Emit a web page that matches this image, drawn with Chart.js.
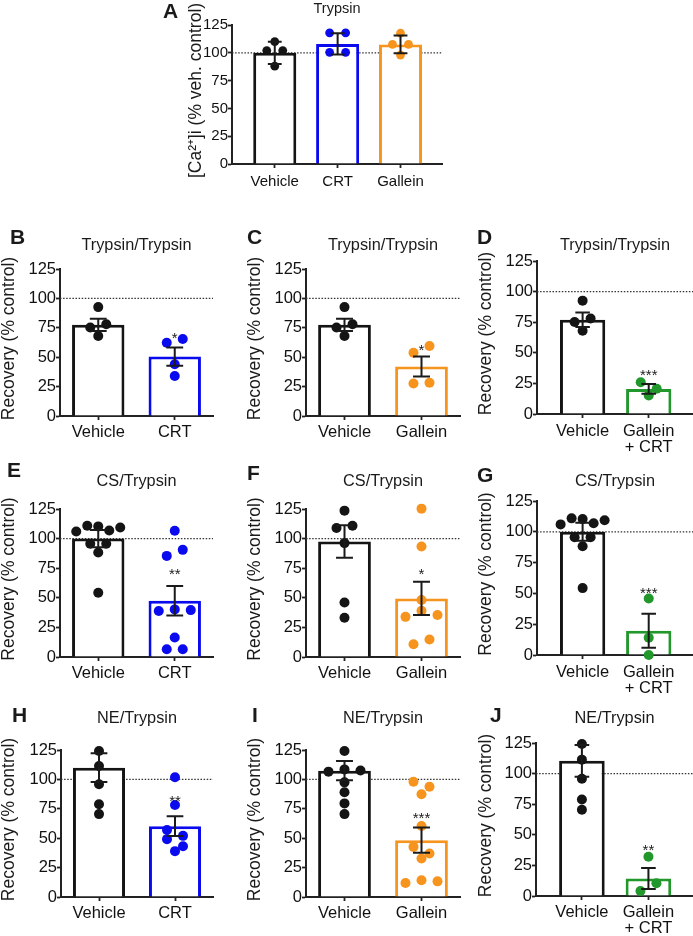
<!DOCTYPE html>
<html>
<head>
<meta charset="utf-8">
<script src="https://cdn.jsdelivr.net/npm/chart.js@4.4.1/dist/chart.umd.min.js"></script>
<style>
  html, body { margin: 0; padding: 0; background: #fff; overflow: hidden; width: 693px; height: 936px; position: relative; }
  canvas { position: absolute; }
</style>
</head>
<body>
<script>
// Categorias e ticks
var catsA = ["Vehicle", "CRT", "Gallein"];
var catsCrt = ["Vehicle", "CRT"];
var catsGallein = ["Vehicle", "Gallein"];
var catsCombo = ["Vehicle", ["Gallein", "+ CRT"]];
var yTickValues = [0, 25, 50, 75, 100, 125];

// A - Trypsin, [Ca2+]i
var aMeans = [100, 108, 107.5];
var aErrs = [10, 9.5, 8];
var aVehicle = [110, 102, 102, 88];
var aCrt = [118, 118, 100.4, 100.4];
var aGallein = [117.6, 107.6, 107.6, 98];

// B, C, D - Trypsin/Trypsin
var tVehicle = [92.6, 75.2, 78, 68];
var bMeans = [77.5, 50.5];
var bErrs = [5.2, 7.8];
var bCrt = [62.3, 65.5, 44, 34];
var cMeans = [77.5, 42];
var cErrs = [5.2, 8.5];
var cGallein = [53.8, 59.5, 27.6, 28.2];
var dMeans = [77, 20.5];
var dErrs = [6, 4];
var dCombo = [26, 20.6, 15.2];

// E, F, G - CS/Trypsin
var csVehicle = [106, 110.9, 110.3, 106.9, 109.4, 95.6, 95.6, 88.2, 54.3];
var eMeans = [100, 47.5];
var eErrs = [7.3, 12.4];
var eCrt = [106.6, 85.4, 90.5, 38.8, 40.2, 39.6, 16.4, 6.5, 6.5];
var fMeans = [97.5, 49.5];
var fErrs = [13.7, 14.1];
var fVehicle = [123.6, 108.9, 110.9, 96.2, 46.1, 33.1];
var fGallein = [125.3, 93.3, 48.1, 33.9, 39, 35.4, 10.8, 14.8];
var gMeans = [100, 19.7];
var gErrs = [7.3, 13.8];
var gCombo = [45.9, 14, 0];

// H, I, J - NE/Trypsin
var neVehicle = [124.2, 111.4, 95.8, 78.8, 70.5];
var hMeans = [110, 60.2];
var hErrs = [12.3, 8.4];
var hCrt = [101.8, 78.2, 56.9, 52, 49.2, 43.2, 39];
var iMeans = [107.4, 48.3];
var iErrs = [8.2, 10.7];
var iVehicle = [124.2, 106.6, 108.5, 107.5, 97.5, 89, 79.6, 70.5];
var iGallein = [98, 93.8, 87.3, 60.3, 42.6, 37, 32.7, 11.9, 14.2, 13.3];
var jMeans = [110.4, 14.3];
var jErrs = [12.9, 8.6];
var jCombo = [32, 4.1, 10.4];

var FONT = "'Liberation Sans', Arial, Helvetica, sans-serif";
var BLACK = "#141414";
var BLUE = "#0a0aef";
var ORANGE = "#f7941e";
var GREEN = "#22972b";
var REC = "Recovery (% control)";

// Layout de cada painel (coordenadas da pagina)
var panels = [
  { letter: "A", title: "Trypsin", yTitle: "[Ca\u00b2\u207a]i (% veh. control)", cats: catsA, means: aMeans, errs: aErrs,
    groups: [aVehicle, aCrt, aGallein], colors: [BLACK, BLUE, ORANGE], sig: "",
    box: { L: 232, R: 442, T: 25, B: 164, xmin: -0.68, xmax: 2.66, yW: 80, fs: 15, tfs: 14.5, r: 4.4, xPad: 6,
           titleBase: 12.5, letterX: 163, letterBase: 18.3, yTitleX: 196 } },
  { letter: "B", title: "Trypsin/Trypsin", yTitle: REC, cats: catsCrt, means: bMeans, errs: bErrs,
    groups: [tVehicle, bCrt], colors: [BLACK, BLUE], sig: "*",
    box: { L: 60, R: 213, T: 269, B: 416, xmin: -0.5, xmax: 1.5, yW: 70, fs: 16.5, tfs: 16.3, r: 5, xPad: 4,
           titleBase: 249.5, letterX: 10, letterBase: 243.5, yTitleX: 9, sigY: 69.8 } },
  { letter: "C", title: "Trypsin/Trypsin", yTitle: REC, cats: catsGallein, means: cMeans, errs: cErrs,
    groups: [tVehicle, cGallein], colors: [BLACK, ORANGE], sig: "*",
    box: { L: 306, R: 460, T: 269, B: 416, xmin: -0.5, xmax: 1.5, yW: 70, fs: 16.5, tfs: 16.3, r: 5, xPad: 4,
           titleBase: 249.5, letterX: 247, letterBase: 243.5, yTitleX: 255, sigY: 59 } },
  { letter: "D", title: "Trypsin/Trypsin", yTitle: REC, cats: catsCombo, means: dMeans, errs: dErrs,
    groups: [tVehicle, dCombo], colors: [BLACK, GREEN], sig: "***",
    box: { L: 537, R: 693, T: 261, B: 414, xmin: -0.69, xmax: 1.67, yW: 70, fs: 16.5, tfs: 16.3, r: 5, xPad: 5,
           titleBase: 249.5, letterX: 477, letterBase: 243.5, yTitleX: 486.5, sigY: 34.7 } },
  { letter: "E", title: "CS/Trypsin", yTitle: REC, cats: catsCrt, means: eMeans, errs: eErrs,
    groups: [csVehicle, eCrt], colors: [BLACK, BLUE], sig: "**",
    box: { L: 60, R: 213, T: 509, B: 657, xmin: -0.5, xmax: 1.5, yW: 70, fs: 16.5, tfs: 16.3, r: 5, xPad: 4,
           titleBase: 486, letterX: 7, letterBase: 477, yTitleX: 9, sigY: 73.5 } },
  { letter: "F", title: "CS/Trypsin", yTitle: REC, cats: catsGallein, means: fMeans, errs: fErrs,
    groups: [fVehicle, fGallein], colors: [BLACK, ORANGE], sig: "*",
    box: { L: 306, R: 460, T: 509, B: 657, xmin: -0.5, xmax: 1.5, yW: 70, fs: 16.5, tfs: 16.3, r: 5, xPad: 4,
           titleBase: 486, letterX: 247, letterBase: 480, yTitleX: 255, sigY: 73.5 } },
  { letter: "G", title: "CS/Trypsin", yTitle: REC, cats: catsCombo, means: gMeans, errs: gErrs,
    groups: [csVehicle, gCombo], colors: [BLACK, GREEN], sig: "***",
    box: { L: 537, R: 693, T: 501, B: 655, xmin: -0.69, xmax: 1.67, yW: 70, fs: 16.5, tfs: 16.3, r: 5, xPad: 5,
           titleBase: 486, letterX: 477, letterBase: 482, yTitleX: 486.5, sigY: 53.2 } },
  { letter: "H", title: "NE/Trypsin", yTitle: REC, cats: catsCrt, means: hMeans, errs: hErrs,
    groups: [neVehicle, hCrt], colors: [BLACK, BLUE], sig: "**",
    box: { L: 61, R: 213, T: 750, B: 897, xmin: -0.5, xmax: 1.5, yW: 70, fs: 16.5, tfs: 16.3, r: 5, xPad: 4,
           titleBase: 723, letterX: 12, letterBase: 722, yTitleX: 9, sigY: 85 } },
  { letter: "I", title: "NE/Trypsin", yTitle: REC, cats: catsGallein, means: iMeans, errs: iErrs,
    groups: [iVehicle, iGallein], colors: [BLACK, ORANGE], sig: "***",
    box: { L: 306, R: 460, T: 750, B: 897, xmin: -0.5, xmax: 1.5, yW: 70, fs: 16.5, tfs: 16.3, r: 5, xPad: 4,
           titleBase: 723, letterX: 252, letterBase: 722, yTitleX: 255, sigY: 70.5 } },
  { letter: "J", title: "NE/Trypsin", yTitle: REC, cats: catsCombo, means: jMeans, errs: jErrs,
    groups: [neVehicle, jCombo], colors: [BLACK, GREEN], sig: "**",
    box: { L: 536, R: 693, T: 743, B: 896, xmin: -0.69, xmax: 1.67, yW: 70, fs: 16.5, tfs: 16.3, r: 5, xPad: 4,
           titleBase: 723, letterX: 490, letterBase: 722, yTitleX: 486.5, sigY: 40.2 } }
];

// Distribui os pontos em linhas (estilo Prism), ordem do array = esquerda para direita
function swarm(vals, center, pxPerCat) {
  var order = vals.map(function (v, i) { return i; })
    .sort(function (a, b) { return vals[b] - vals[a] || a - b; });
  var rows = [], row = null;
  order.forEach(function (i) {
    if (row && vals[row[0]] - vals[i] <= 7) row.push(i);
    else { row = [i]; rows.push(row); }
  });
  var xs = [];
  rows.forEach(function (r) {
    r.sort(function (a, b) { return a - b; });
    var step = r.length > 1 ? Math.min(16, 44 / (r.length - 1)) : 0;
    r.forEach(function (i, k) {
      xs[i] = center + (k - (r.length - 1) / 2) * step / pxPerCat;
    });
  });
  return xs;
}

function extras(p, left, top) {
  var b = p.box;
  return {
    id: "extras",
    beforeDatasetsDraw: function (chart) {
      var ctx = chart.ctx, a = chart.chartArea;
      var y = chart.scales.y.getPixelForValue(100);
      ctx.save();
      ctx.strokeStyle = "#333";
      ctx.lineWidth = 1.2;
      ctx.setLineDash([1.5, 1.6]);
      ctx.beginPath();
      ctx.moveTo(a.left, y);
      ctx.lineTo(a.right, y);
      ctx.stroke();
      ctx.restore();
    },
    afterDatasetsDraw: function (chart) {
      var ctx = chart.ctx, a = chart.chartArea;
      var xs = chart.scales.x, ys = chart.scales.y;
      ctx.save();
      // barras de erro
      ctx.strokeStyle = "#1a1a1a";
      ctx.lineWidth = 2;
      p.means.forEach(function (m, i) {
        var x = xs.getPixelForValue(i);
        var x0 = xs.getPixelForValue(i - 0.11), x1 = xs.getPixelForValue(i + 0.11);
        var yt = ys.getPixelForValue(m + p.errs[i]), yb = ys.getPixelForValue(m - p.errs[i]);
        ctx.beginPath();
        ctx.moveTo(x, yt); ctx.lineTo(x, yb);
        ctx.moveTo(x0, yt); ctx.lineTo(x1, yt);
        ctx.moveTo(x0, yb); ctx.lineTo(x1, yb);
        ctx.stroke();
      });
      ctx.fillStyle = "#1a1a1a";
      // asteriscos
      if (p.sig) {
        ctx.font = "15px " + FONT;
        ctx.textAlign = "center";
        ctx.textBaseline = "alphabetic";
        ctx.fillText(p.sig, xs.getPixelForValue(1), ys.getPixelForValue(b.sigY) + 0.58 * 15);
      }
      // titulo do painel
      ctx.font = b.tfs + "px " + FONT;
      ctx.textAlign = "center";
      ctx.fillText(p.title, (a.left + a.right) / 2, b.titleBase - top);
      // letra
      ctx.font = "bold 21px " + FONT;
      ctx.textAlign = "left";
      ctx.fillText(p.letter, b.letterX - left, b.letterBase - top);
      // titulo do eixo y
      ctx.translate(b.yTitleX - left, (a.top + a.bottom) / 2 - 4);
      ctx.rotate(-Math.PI / 2);
      ctx.font = "17.5px " + FONT;
      ctx.textAlign = "center";
      ctx.textBaseline = "middle";
      ctx.fillText(p.yTitle, 0, 0);
      ctx.restore();
    }
  };
}

panels.forEach(function (p) {
  var b = p.box;
  var padT = 56, padR = 10, xH = 42;
  var left = b.L - b.yW, top = b.T - padT;
  var w = (b.R - b.L) + b.yW + padR, h = (b.B - b.T) + padT + xH;
  var cv = document.createElement("canvas");
  cv.width = w; cv.height = h;
  cv.style.left = left + "px"; cv.style.top = top + "px";
  cv.style.width = w + "px"; cv.style.height = h + "px";
  document.body.appendChild(cv);

  var pxPerCat = (b.R - b.L) / (b.xmax - b.xmin);
  var datasets = [{
    type: "bar",
    order: 2,
    data: p.means.map(function (m, i) { return { x: i, y: m }; }),
    backgroundColor: "#ffffff",
    borderColor: p.colors,
    borderWidth: 3,
    barPercentage: 0.685,
    categoryPercentage: 1
  }];
  p.groups.forEach(function (vals, i) {
    var xs = swarm(vals, i, pxPerCat);
    datasets.push({
      type: "scatter",
      order: 1,
      data: vals.map(function (v, k) { return { x: xs[k], y: v }; }),
      pointRadius: b.r,
      pointHoverRadius: b.r,
      pointBackgroundColor: p.colors[i],
      pointBorderWidth: 0,
      clip: false
    });
  });

  new Chart(cv, {
    type: "bar",
    data: { datasets: datasets },
    options: {
      responsive: false,
      animation: false,
      events: [],
      layout: { padding: { left: 0, top: padT, right: padR, bottom: 0 } },
      plugins: { legend: { display: false }, tooltip: { enabled: false } },
      scales: {
        x: {
          type: "linear",
          min: b.xmin,
          max: b.xmax,
          offset: false,
          afterBuildTicks: function (scale) {
            scale.ticks = p.cats.map(function (c, i) { return { value: i }; });
          },
          afterFit: function (scale) { scale.height = xH; },
          ticks: {
            autoSkip: false,
            maxRotation: 0,
            padding: b.xPad,
            color: "#111",
            font: { family: FONT, size: b.fs, lineHeight: 1 },
            callback: function (value, index) { return p.cats[index]; }
          },
          grid: { drawOnChartArea: false, offset: false, tickLength: 4, tickColor: "#222", tickWidth: 1.8 },
          border: { color: "#222", width: 2 }
        },
        y: {
          min: 0,
          max: 125,
          afterBuildTicks: function (scale) {
            scale.ticks = yTickValues.map(function (v) { return { value: v }; });
          },
          afterFit: function (scale) { scale.width = b.yW; },
          ticks: {
            padding: 0,
            color: "#111",
            font: { family: FONT, size: b.fs, lineHeight: 1 }
          },
          grid: { drawOnChartArea: false, tickLength: 4, tickColor: "#222", tickWidth: 1.8 },
          border: { color: "#222", width: 2 }
        }
      }
    },
    plugins: [extras(p, left, top)]
  });
});
</script>
</body>
</html>
